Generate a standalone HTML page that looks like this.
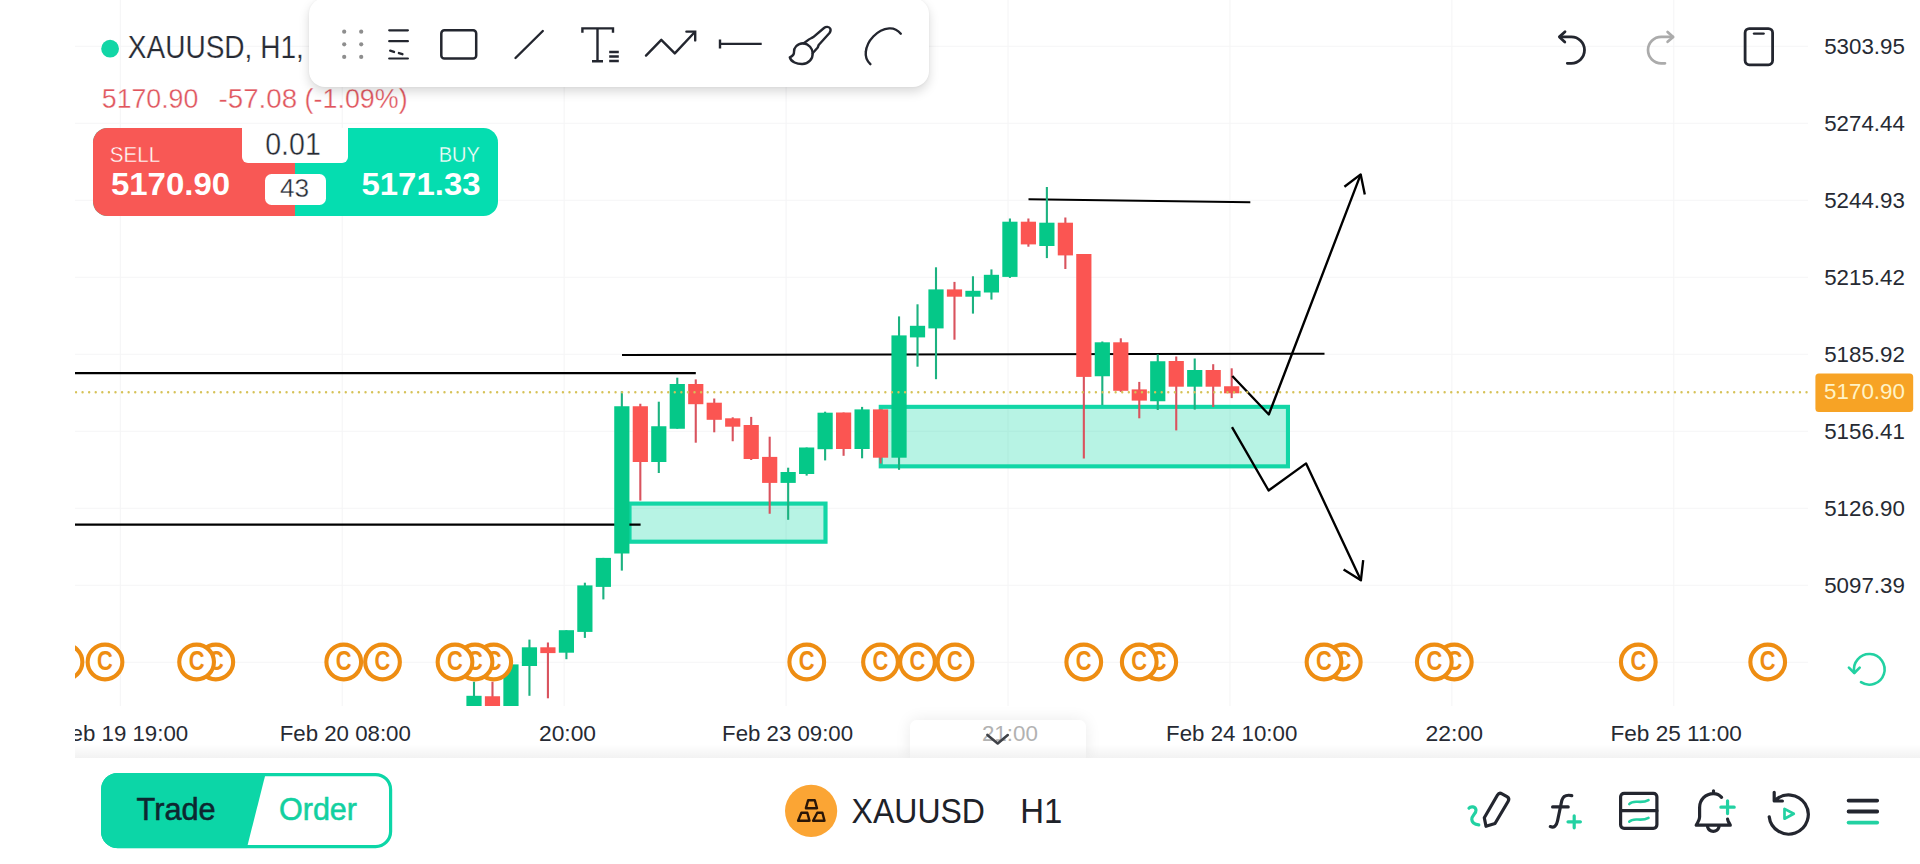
<!DOCTYPE html>
<html lang="en">
<head>
<meta charset="utf-8">
<title>XAUUSD H1</title>
<style>
html,body{margin:0;padding:0;background:#fff;}
body{width:1920px;height:864px;position:relative;overflow:hidden;font-family:"Liberation Sans",sans-serif;color:#1e2229;}
.abs{position:absolute;}
.t{position:absolute;white-space:nowrap;line-height:1;transform-origin:0 50%;}
#chart{position:absolute;left:0;top:0;width:1920px;height:864px;}
#chartclip{position:absolute;left:75px;top:0;width:1845px;height:706px;overflow:hidden;}
#chartclip svg{position:absolute;left:-75px;top:0;}
</style>
</head>
<body>
<div id="chartclip">
<svg width="1920" height="864" viewBox="0 0 1920 864">
<line x1="75" x2="1808" y1="46.20" y2="46.20" stroke="#f5f5f6" stroke-width="1.1"/>
<line x1="75" x2="1808" y1="123.20" y2="123.20" stroke="#f5f5f6" stroke-width="1.1"/>
<line x1="75" x2="1808" y1="200.20" y2="200.20" stroke="#f5f5f6" stroke-width="1.1"/>
<line x1="75" x2="1808" y1="277.20" y2="277.20" stroke="#f5f5f6" stroke-width="1.1"/>
<line x1="75" x2="1808" y1="354.20" y2="354.20" stroke="#f5f5f6" stroke-width="1.1"/>
<line x1="75" x2="1808" y1="431.20" y2="431.20" stroke="#f5f5f6" stroke-width="1.1"/>
<line x1="75" x2="1808" y1="508.20" y2="508.20" stroke="#f5f5f6" stroke-width="1.1"/>
<line x1="75" x2="1808" y1="585.20" y2="585.20" stroke="#f5f5f6" stroke-width="1.1"/>
<line x1="75" x2="1808" y1="662.20" y2="662.20" stroke="#f5f5f6" stroke-width="1.1"/>
<line y1="0" y2="706" x1="120.30" x2="120.30" stroke="#f5f5f6" stroke-width="1.1"/>
<line y1="0" y2="706" x1="342.23" x2="342.23" stroke="#f5f5f6" stroke-width="1.1"/>
<line y1="0" y2="706" x1="564.16" x2="564.16" stroke="#f5f5f6" stroke-width="1.1"/>
<line y1="0" y2="706" x1="786.09" x2="786.09" stroke="#f5f5f6" stroke-width="1.1"/>
<line y1="0" y2="706" x1="1008.02" x2="1008.02" stroke="#f5f5f6" stroke-width="1.1"/>
<line y1="0" y2="706" x1="1229.95" x2="1229.95" stroke="#f5f5f6" stroke-width="1.1"/>
<line y1="0" y2="706" x1="1451.88" x2="1451.88" stroke="#f5f5f6" stroke-width="1.1"/>
<line y1="0" y2="706" x1="1673.81" x2="1673.81" stroke="#f5f5f6" stroke-width="1.1"/>
<rect x="629.5" y="503.6" width="196" height="38.1" fill="#12d6a6" fill-opacity="0.3" stroke="#12d6a6" stroke-width="4.15"/>
<rect x="880.75" y="406.85" width="407.2" height="59.5" fill="#12d6a6" fill-opacity="0.3" stroke="#12d6a6" stroke-width="4.1"/>
<g stroke="#000" stroke-width="2.1" fill="none" stroke-linecap="butt">
<line x1="75" y1="373.1" x2="695.8" y2="373.1"/>
<line x1="75" y1="524.6" x2="640.6" y2="524.6"/>
<line x1="622" y1="355" x2="1324.5" y2="353.7"/>
<line x1="1028.5" y1="199.2" x2="1250.3" y2="202.3"/>
</g>
<rect x="472.95" y="681.70" width="2.1" height="24.30" fill="#1cb280"/>
<rect x="466.40" y="695.80" width="15.2" height="10.20" fill="#05c888"/>
<rect x="491.43" y="681.70" width="2.1" height="24.30" fill="#d9535e"/>
<rect x="484.88" y="696.25" width="15.2" height="9.75" fill="#fb5552"/>
<rect x="509.91" y="664.40" width="2.1" height="41.60" fill="#1cb280"/>
<rect x="503.36" y="664.40" width="15.2" height="41.60" fill="#05c888"/>
<rect x="528.39" y="639.60" width="2.1" height="56.20" fill="#1cb280"/>
<rect x="521.84" y="647.30" width="15.2" height="18.70" fill="#05c888"/>
<rect x="546.87" y="642.50" width="2.1" height="55.80" fill="#d9535e"/>
<rect x="540.32" y="647.30" width="15.2" height="5.80" fill="#fb5552"/>
<rect x="565.35" y="630.20" width="2.1" height="29.00" fill="#1cb280"/>
<rect x="558.80" y="630.20" width="15.2" height="22.50" fill="#05c888"/>
<rect x="583.83" y="582.70" width="2.1" height="55.20" fill="#1cb280"/>
<rect x="577.28" y="585.40" width="15.2" height="46.50" fill="#05c888"/>
<rect x="602.31" y="557.90" width="2.1" height="41.50" fill="#1cb280"/>
<rect x="595.76" y="557.90" width="15.2" height="29.00" fill="#05c888"/>
<rect x="620.79" y="391.25" width="2.1" height="179.35" fill="#1cb280"/>
<rect x="614.24" y="406.25" width="15.2" height="147.25" fill="#05c888"/>
<rect x="639.27" y="403.75" width="2.1" height="96.85" fill="#d9535e"/>
<rect x="632.72" y="406.25" width="15.2" height="55.75" fill="#fb5552"/>
<rect x="657.75" y="401.70" width="2.1" height="71.30" fill="#1cb280"/>
<rect x="651.20" y="426.25" width="15.2" height="35.75" fill="#05c888"/>
<rect x="676.23" y="377.70" width="2.1" height="51.05" fill="#1cb280"/>
<rect x="669.68" y="384.00" width="15.2" height="44.75" fill="#05c888"/>
<rect x="694.71" y="379.40" width="2.1" height="63.30" fill="#d9535e"/>
<rect x="688.16" y="384.00" width="15.2" height="20.20" fill="#fb5552"/>
<rect x="713.19" y="398.50" width="2.1" height="33.80" fill="#d9535e"/>
<rect x="706.64" y="402.70" width="15.2" height="17.10" fill="#fb5552"/>
<rect x="731.67" y="417.30" width="2.1" height="23.95" fill="#d9535e"/>
<rect x="725.12" y="418.30" width="15.2" height="8.40" fill="#fb5552"/>
<rect x="750.15" y="416.90" width="2.1" height="43.10" fill="#d9535e"/>
<rect x="743.60" y="425.00" width="15.2" height="34.00" fill="#fb5552"/>
<rect x="768.63" y="436.70" width="2.1" height="77.05" fill="#d9535e"/>
<rect x="762.08" y="456.90" width="15.2" height="26.00" fill="#fb5552"/>
<rect x="787.11" y="467.70" width="2.1" height="52.10" fill="#1cb280"/>
<rect x="780.56" y="472.00" width="15.2" height="10.90" fill="#05c888"/>
<rect x="805.59" y="447.50" width="2.1" height="28.10" fill="#1cb280"/>
<rect x="799.04" y="447.50" width="15.2" height="26.50" fill="#05c888"/>
<rect x="824.07" y="411.70" width="2.1" height="48.70" fill="#1cb280"/>
<rect x="817.52" y="412.70" width="15.2" height="36.50" fill="#05c888"/>
<rect x="842.55" y="412.50" width="2.1" height="43.30" fill="#d9535e"/>
<rect x="836.00" y="412.50" width="15.2" height="36.50" fill="#fb5552"/>
<rect x="861.03" y="406.90" width="2.1" height="51.40" fill="#1cb280"/>
<rect x="854.48" y="409.40" width="15.2" height="39.60" fill="#05c888"/>
<rect x="879.51" y="409.40" width="2.1" height="54.10" fill="#d9535e"/>
<rect x="872.96" y="409.40" width="15.2" height="48.30" fill="#fb5552"/>
<rect x="897.99" y="316.40" width="2.1" height="153.40" fill="#1cb280"/>
<rect x="891.44" y="335.40" width="15.2" height="122.30" fill="#05c888"/>
<rect x="916.47" y="304.30" width="2.1" height="62.40" fill="#1cb280"/>
<rect x="909.92" y="325.80" width="15.2" height="11.60" fill="#05c888"/>
<rect x="934.95" y="267.30" width="2.1" height="111.90" fill="#1cb280"/>
<rect x="928.40" y="289.40" width="15.2" height="39.00" fill="#05c888"/>
<rect x="953.43" y="281.90" width="2.1" height="57.80" fill="#d9535e"/>
<rect x="946.88" y="289.40" width="15.2" height="7.30" fill="#fb5552"/>
<rect x="971.91" y="276.25" width="2.1" height="37.35" fill="#1cb280"/>
<rect x="965.36" y="290.80" width="15.2" height="5.90" fill="#05c888"/>
<rect x="990.39" y="269.40" width="2.1" height="30.20" fill="#1cb280"/>
<rect x="983.84" y="274.80" width="15.2" height="17.70" fill="#05c888"/>
<rect x="1008.87" y="218.50" width="2.1" height="59.40" fill="#1cb280"/>
<rect x="1002.32" y="221.70" width="15.2" height="55.20" fill="#05c888"/>
<rect x="1027.35" y="218.50" width="2.1" height="28.20" fill="#d9535e"/>
<rect x="1020.80" y="221.70" width="15.2" height="22.70" fill="#fb5552"/>
<rect x="1045.83" y="187.00" width="2.1" height="71.10" fill="#1cb280"/>
<rect x="1039.28" y="222.70" width="15.2" height="23.30" fill="#05c888"/>
<rect x="1064.31" y="217.50" width="2.1" height="51.50" fill="#d9535e"/>
<rect x="1057.76" y="222.70" width="15.2" height="32.70" fill="#fb5552"/>
<rect x="1082.79" y="254.00" width="2.1" height="204.50" fill="#d9535e"/>
<rect x="1076.24" y="254.00" width="15.2" height="122.90" fill="#fb5552"/>
<rect x="1101.27" y="341.50" width="2.1" height="63.50" fill="#1cb280"/>
<rect x="1094.72" y="342.30" width="15.2" height="33.95" fill="#05c888"/>
<rect x="1119.75" y="338.30" width="2.1" height="53.60" fill="#d9535e"/>
<rect x="1113.20" y="342.30" width="15.2" height="48.50" fill="#fb5552"/>
<rect x="1138.23" y="381.90" width="2.1" height="36.40" fill="#d9535e"/>
<rect x="1131.68" y="389.40" width="15.2" height="11.20" fill="#fb5552"/>
<rect x="1156.71" y="354.40" width="2.1" height="55.60" fill="#1cb280"/>
<rect x="1150.16" y="361.25" width="15.2" height="40.00" fill="#05c888"/>
<rect x="1175.19" y="356.50" width="2.1" height="73.90" fill="#d9535e"/>
<rect x="1168.64" y="361.00" width="15.2" height="25.70" fill="#fb5552"/>
<rect x="1193.67" y="358.50" width="2.1" height="51.10" fill="#1cb280"/>
<rect x="1187.12" y="370.00" width="15.2" height="16.70" fill="#05c888"/>
<rect x="1212.15" y="364.20" width="2.1" height="42.80" fill="#d9535e"/>
<rect x="1205.60" y="370.00" width="15.2" height="16.70" fill="#fb5552"/>
<rect x="1230.63" y="368.30" width="2.1" height="29.80" fill="#d9535e"/>
<rect x="1224.08" y="386.25" width="15.2" height="7.05" fill="#fb5552"/>
<g stroke="#000" stroke-width="2.35" fill="none" stroke-linejoin="round" stroke-linecap="butt">
<polyline points="1232.3,376 1268.8,414.5 1360.7,174.4"/>
<polyline points="1344.4,186.8 1360.7,174.4 1364.8,194.6"/>
<polyline points="1232,427.1 1268.6,490.5 1306.1,463.4 1360.9,580.3"/>
<polyline points="1343.6,569.4 1360.9,580.3 1363.2,560.1"/>
</g>
<line x1="76" x2="1807" y1="392.2" y2="392.2" stroke="#d6c258" stroke-width="2.4" stroke-linecap="round" stroke-dasharray="0.01 6.57" />
<g transform="translate(1767.70,662)"><circle r="17.35" fill="#fff" stroke="#ee8d12" stroke-width="4.1"/><text x="0" y="7.5" text-anchor="middle" font-family="Liberation Sans, sans-serif" font-weight="bold" font-size="27" textLength="15.8" lengthAdjust="spacingAndGlyphs" fill="#ee8d12">C</text></g>
<g transform="translate(1638.30,662)"><circle r="17.35" fill="#fff" stroke="#ee8d12" stroke-width="4.1"/><text x="0" y="7.5" text-anchor="middle" font-family="Liberation Sans, sans-serif" font-weight="bold" font-size="27" textLength="15.8" lengthAdjust="spacingAndGlyphs" fill="#ee8d12">C</text></g>
<g transform="translate(1454.30,662)"><circle r="17.35" fill="#fff" stroke="#ee8d12" stroke-width="4.1"/><text x="0" y="7.5" text-anchor="middle" font-family="Liberation Sans, sans-serif" font-weight="bold" font-size="27" textLength="15.8" lengthAdjust="spacingAndGlyphs" fill="#ee8d12">C</text></g>
<g transform="translate(1434.30,662)"><circle r="17.35" fill="#fff" stroke="#ee8d12" stroke-width="4.1"/><text x="0" y="7.5" text-anchor="middle" font-family="Liberation Sans, sans-serif" font-weight="bold" font-size="27" textLength="15.8" lengthAdjust="spacingAndGlyphs" fill="#ee8d12">C</text></g>
<g transform="translate(1343.30,662)"><circle r="17.35" fill="#fff" stroke="#ee8d12" stroke-width="4.1"/><text x="0" y="7.5" text-anchor="middle" font-family="Liberation Sans, sans-serif" font-weight="bold" font-size="27" textLength="15.8" lengthAdjust="spacingAndGlyphs" fill="#ee8d12">C</text></g>
<g transform="translate(1324.00,662)"><circle r="17.35" fill="#fff" stroke="#ee8d12" stroke-width="4.1"/><text x="0" y="7.5" text-anchor="middle" font-family="Liberation Sans, sans-serif" font-weight="bold" font-size="27" textLength="15.8" lengthAdjust="spacingAndGlyphs" fill="#ee8d12">C</text></g>
<g transform="translate(1158.75,662)"><circle r="17.35" fill="#fff" stroke="#ee8d12" stroke-width="4.1"/><text x="0" y="7.5" text-anchor="middle" font-family="Liberation Sans, sans-serif" font-weight="bold" font-size="27" textLength="15.8" lengthAdjust="spacingAndGlyphs" fill="#ee8d12">C</text></g>
<g transform="translate(1139.25,662)"><circle r="17.35" fill="#fff" stroke="#ee8d12" stroke-width="4.1"/><text x="0" y="7.5" text-anchor="middle" font-family="Liberation Sans, sans-serif" font-weight="bold" font-size="27" textLength="15.8" lengthAdjust="spacingAndGlyphs" fill="#ee8d12">C</text></g>
<g transform="translate(1083.75,662)"><circle r="17.35" fill="#fff" stroke="#ee8d12" stroke-width="4.1"/><text x="0" y="7.5" text-anchor="middle" font-family="Liberation Sans, sans-serif" font-weight="bold" font-size="27" textLength="15.8" lengthAdjust="spacingAndGlyphs" fill="#ee8d12">C</text></g>
<g transform="translate(955.00,662)"><circle r="17.35" fill="#fff" stroke="#ee8d12" stroke-width="4.1"/><text x="0" y="7.5" text-anchor="middle" font-family="Liberation Sans, sans-serif" font-weight="bold" font-size="27" textLength="15.8" lengthAdjust="spacingAndGlyphs" fill="#ee8d12">C</text></g>
<g transform="translate(917.50,662)"><circle r="17.35" fill="#fff" stroke="#ee8d12" stroke-width="4.1"/><text x="0" y="7.5" text-anchor="middle" font-family="Liberation Sans, sans-serif" font-weight="bold" font-size="27" textLength="15.8" lengthAdjust="spacingAndGlyphs" fill="#ee8d12">C</text></g>
<g transform="translate(880.50,662)"><circle r="17.35" fill="#fff" stroke="#ee8d12" stroke-width="4.1"/><text x="0" y="7.5" text-anchor="middle" font-family="Liberation Sans, sans-serif" font-weight="bold" font-size="27" textLength="15.8" lengthAdjust="spacingAndGlyphs" fill="#ee8d12">C</text></g>
<g transform="translate(806.75,662)"><circle r="17.35" fill="#fff" stroke="#ee8d12" stroke-width="4.1"/><text x="0" y="7.5" text-anchor="middle" font-family="Liberation Sans, sans-serif" font-weight="bold" font-size="27" textLength="15.8" lengthAdjust="spacingAndGlyphs" fill="#ee8d12">C</text></g>
<g transform="translate(493.75,662)"><circle r="17.35" fill="#fff" stroke="#ee8d12" stroke-width="4.1"/><text x="0" y="7.5" text-anchor="middle" font-family="Liberation Sans, sans-serif" font-weight="bold" font-size="27" textLength="15.8" lengthAdjust="spacingAndGlyphs" fill="#ee8d12">C</text></g>
<g transform="translate(475.00,662)"><circle r="17.35" fill="#fff" stroke="#ee8d12" stroke-width="4.1"/><text x="0" y="7.5" text-anchor="middle" font-family="Liberation Sans, sans-serif" font-weight="bold" font-size="27" textLength="15.8" lengthAdjust="spacingAndGlyphs" fill="#ee8d12">C</text></g>
<g transform="translate(455.00,662)"><circle r="17.35" fill="#fff" stroke="#ee8d12" stroke-width="4.1"/><text x="0" y="7.5" text-anchor="middle" font-family="Liberation Sans, sans-serif" font-weight="bold" font-size="27" textLength="15.8" lengthAdjust="spacingAndGlyphs" fill="#ee8d12">C</text></g>
<g transform="translate(382.50,662)"><circle r="17.35" fill="#fff" stroke="#ee8d12" stroke-width="4.1"/><text x="0" y="7.5" text-anchor="middle" font-family="Liberation Sans, sans-serif" font-weight="bold" font-size="27" textLength="15.8" lengthAdjust="spacingAndGlyphs" fill="#ee8d12">C</text></g>
<g transform="translate(343.75,662)"><circle r="17.35" fill="#fff" stroke="#ee8d12" stroke-width="4.1"/><text x="0" y="7.5" text-anchor="middle" font-family="Liberation Sans, sans-serif" font-weight="bold" font-size="27" textLength="15.8" lengthAdjust="spacingAndGlyphs" fill="#ee8d12">C</text></g>
<g transform="translate(215.80,662)"><circle r="17.35" fill="#fff" stroke="#ee8d12" stroke-width="4.1"/><text x="0" y="7.5" text-anchor="middle" font-family="Liberation Sans, sans-serif" font-weight="bold" font-size="27" textLength="15.8" lengthAdjust="spacingAndGlyphs" fill="#ee8d12">C</text></g>
<g transform="translate(196.60,662)"><circle r="17.35" fill="#fff" stroke="#ee8d12" stroke-width="4.1"/><text x="0" y="7.5" text-anchor="middle" font-family="Liberation Sans, sans-serif" font-weight="bold" font-size="27" textLength="15.8" lengthAdjust="spacingAndGlyphs" fill="#ee8d12">C</text></g>
<g transform="translate(105.00,662)"><circle r="17.35" fill="#fff" stroke="#ee8d12" stroke-width="4.1"/><text x="0" y="7.5" text-anchor="middle" font-family="Liberation Sans, sans-serif" font-weight="bold" font-size="27" textLength="15.8" lengthAdjust="spacingAndGlyphs" fill="#ee8d12">C</text></g>
<g transform="translate(65.00,662)"><circle r="17.35" fill="#fff" stroke="#ee8d12" stroke-width="4.1"/><text x="0" y="7.5" text-anchor="middle" font-family="Liberation Sans, sans-serif" font-weight="bold" font-size="27" textLength="15.8" lengthAdjust="spacingAndGlyphs" fill="#ee8d12">C</text></g>
</svg>
</div>
<!-- header: symbol + change -->
<svg class="abs" style="left:0;top:0" width="1920" height="864" viewBox="0 0 1920 864" font-family="Liberation Sans, sans-serif">
<circle cx="110.1" cy="48.7" r="8.9" fill="#12d6a6"/>
<text x="127.8" y="58" font-size="31.2" fill="#272b34" stroke="#fff" stroke-width="0.2" textLength="176" lengthAdjust="spacingAndGlyphs">XAUUSD, H1,</text>
<g fill="#e0555d" font-size="28" stroke="#fff" stroke-width="0.35">
<text x="101.8" y="107.9" textLength="96.5" lengthAdjust="spacingAndGlyphs">5170.90</text>
<text x="218.6" y="107.9" textLength="78.5" lengthAdjust="spacingAndGlyphs">-57.08</text>
<text x="304.6" y="107.9" textLength="103" lengthAdjust="spacingAndGlyphs">(-1.09%)</text>
</g>
</svg>

<!-- sell / buy widget -->
<div class="abs" style="left:92.9px;top:127.9px;width:405.2px;height:88.2px;border-radius:14.5px;overflow:hidden;background:#05ddb0;">
  <div class="abs" style="left:0;top:0;width:202.2px;height:100%;background:#f85855;"></div>
  <div class="abs" style="left:149.3px;top:0;width:105.6px;height:34.9px;background:#fff;border-radius:0 0 6px 6px;"></div>
  <div class="abs" style="left:171.8px;top:46.4px;width:61.3px;height:30.9px;background:#fff;border-radius:6.5px;"></div>
</div>
<svg class="abs" style="left:0;top:0" width="1920" height="864" viewBox="0 0 1920 864" font-family="Liberation Sans, sans-serif">
<text x="109.8" y="161.6" font-size="21.7" fill="#fff" stroke="#f85855" stroke-width="0.4" textLength="50.3" lengthAdjust="spacingAndGlyphs">SELL</text>
<text x="110.9" y="194.9" font-size="32" font-weight="bold" fill="#fff" textLength="119.3" lengthAdjust="spacingAndGlyphs">5170.90</text>
<text x="438.7" y="161.5" font-size="21.7" fill="#fff" stroke="#05ddb0" stroke-width="0.4" textLength="41.2" lengthAdjust="spacingAndGlyphs">BUY</text>
<text x="361.5" y="194.9" font-size="32" font-weight="bold" fill="#fff" textLength="119" lengthAdjust="spacingAndGlyphs">5171.33</text>
<text x="265.2" y="155" font-size="30.7" fill="#262a33" stroke="#fff" stroke-width="0.4" textLength="55.6" lengthAdjust="spacingAndGlyphs">0.01</text>
<text x="279.9" y="197.2" font-size="25" fill="#262a33" stroke="#fff" stroke-width="0.35" textLength="29.2" lengthAdjust="spacingAndGlyphs">43</text>
</svg>
<!-- drawing toolbar -->
<div class="abs" style="left:308.5px;top:-2px;width:620.5px;height:89.4px;border-radius:16px;background:#fff;box-shadow:0 5px 11px rgba(0,0,0,0.15),0 0 3px rgba(0,0,0,0.05);"></div>
<svg class="abs" style="left:0;top:0" width="1920" height="120" viewBox="0 0 1920 120">
<g fill="#8e8e8e">
<circle cx="344.2" cy="31.7" r="2.1"/><circle cx="361.2" cy="31.7" r="2.1"/>
<circle cx="344.2" cy="44.3" r="2.1"/><circle cx="361.2" cy="44.3" r="2.1"/>
<circle cx="344.2" cy="56.9" r="2.1"/><circle cx="361.2" cy="56.9" r="2.1"/>
</g>
<g fill="none" stroke="#23262f" stroke-width="2.4" stroke-linecap="round" stroke-linejoin="round">
<!-- line style -->
<path d="M389.2 30.3H407.9M389.2 41.2H407.9M389.2 58.5H407.9" stroke-linecap="round" stroke-width="2.2"/>
<path d="M390.2 50.7L394 51.9M398.9 53.1L402.4 54.2" stroke-width="2.4" stroke-linecap="round"/>
<!-- rectangle -->
<rect x="441.3" y="30.3" width="34.9" height="28.2" rx="3.1" stroke-width="2.5"/>
<!-- line -->
<path d="M515.5 58L542.8 31"/>
<!-- text tool -->
<path d="M582.4 32.7V28.4H613V32.7M597.5 28.4V61.3M592 61.3H603" stroke-linecap="butt" stroke-linejoin="miter"/>
<path d="M609.2 51.9H618.8M609.2 56.5H618.8M609.2 61.1H618.8" stroke-width="2.5" stroke-linecap="butt"/>
<!-- trend -->
<path d="M646 55.6L661.3 39.8L674.8 53.4L694.6 32.2"/>
<path d="M686.4 31.6H695.2V40.4" stroke-linejoin="miter"/>
<!-- horizontal ray -->
<path d="M720 43.9H761.7M720 39.6V48.5" stroke-linecap="butt"/>
<!-- brush -->
<path d="M803.3 43.3C797 43.5 793.6 48 794 52C794.2 54.5 793 56 789.8 57.4C791 62 797 64.2 802.5 64C808.5 63.8 813 59 812.7 53C812.5 48.5 809 44 803.3 43.3Z"/>
<path d="M803.8 43.2L809 39.4C810.5 38.3 811.5 38.3 813.3 37.1L824 28C826 26.3 829 26.5 830.2 28.5C831 30 830.5 31.5 829.5 33L818.9 44.8C818 46 818.3 46.8 817.3 48L812.6 53.3"/>
<!-- arc -->
<path d="M870.4 64.2C866.5 60.5 865.3 56 865.8 52C866.8 41 877 29.5 889.2 28.4C894 28 898 30.5 900.8 33.7"/>
</g>
</svg>

<!-- undo / redo / fullscreen -->
<svg class="abs" style="left:1530px;top:0" width="280" height="100" viewBox="1530 0 280 100">
<g fill="none" stroke="#23262f" stroke-width="2.8" stroke-linecap="round" stroke-linejoin="round">
<path d="M1565 31.7L1559.4 36.9L1564.8 42.1"/>
<path d="M1560 36.9H1571.3A13.2 13.2 0 0 1 1571.3 63.3H1567.3"/>
<rect x="1745.1" y="28.6" width="27.5" height="36.2" rx="4.2"/>
<path d="M1754 33.6H1763.6" stroke-width="2.4"/>
</g>
<g fill="none" stroke="#ababab" stroke-width="2.7" stroke-linecap="round" stroke-linejoin="round">
<path d="M1667.6 32L1673.2 36.9L1667.6 41.8"/>
<path d="M1672.6 36.9H1661.2A13.2 13.2 0 0 0 1661.2 63.3H1665"/>
</g>
</svg>
<!-- price axis + time axis labels -->
<svg class="abs" style="left:0;top:0" width="1920" height="864" viewBox="0 0 1920 864" font-family="Liberation Sans, sans-serif">
<g font-size="22.7" fill="#262a33">
<text x="1824.2" y="53.7" textLength="80.6" lengthAdjust="spacingAndGlyphs">5303.95</text>
<text x="1824.2" y="130.7" textLength="80.6" lengthAdjust="spacingAndGlyphs">5274.44</text>
<text x="1824.2" y="207.8" textLength="80.6" lengthAdjust="spacingAndGlyphs">5244.93</text>
<text x="1824.2" y="284.8" textLength="80.6" lengthAdjust="spacingAndGlyphs">5215.42</text>
<text x="1824.2" y="361.8" textLength="80.6" lengthAdjust="spacingAndGlyphs">5185.92</text>
<text x="1824.2" y="438.8" textLength="80.6" lengthAdjust="spacingAndGlyphs">5156.41</text>
<text x="1824.2" y="515.9" textLength="80.6" lengthAdjust="spacingAndGlyphs">5126.90</text>
<text x="1824.2" y="592.9" textLength="80.6" lengthAdjust="spacingAndGlyphs">5097.39</text>
</g>
<rect x="1815.4" y="373.4" width="97.8" height="38.6" rx="3.5" fill="#f7a325"/>
<text x="1824.1" y="399" font-size="22.6" fill="#fff3c6" textLength="80.8" lengthAdjust="spacingAndGlyphs">5170.90</text>
<!-- refresh -->
<g fill="none" stroke="#22d1a2" stroke-width="2.6" stroke-linecap="round" stroke-linejoin="round">
<path d="M1854.3 672.4A15.3 15.3 0 1 1 1861 682.2"/>
<path d="M1848.9 667.6L1854.3 673L1859.7 667.6"/>
</g>
<clipPath id="axclip"><rect x="75" y="708" width="1845" height="60"/></clipPath>
<g clip-path="url(#axclip)" font-size="22.6" fill="#262a33">
<text x="57" y="741" textLength="131.2" lengthAdjust="spacingAndGlyphs">Feb 19 19:00</text>
<text x="279.7" y="741" textLength="131.2" lengthAdjust="spacingAndGlyphs">Feb 20 08:00</text>
<text x="539" y="741" textLength="57" lengthAdjust="spacingAndGlyphs">20:00</text>
<text x="722.1" y="741" textLength="131" lengthAdjust="spacingAndGlyphs">Feb 23 09:00</text>
<text x="1166.1" y="741" textLength="131.2" lengthAdjust="spacingAndGlyphs">Feb 24 10:00</text>
<text x="1425.5" y="741" textLength="57.4" lengthAdjust="spacingAndGlyphs">22:00</text>
<text x="1610.5" y="741" textLength="131.4" lengthAdjust="spacingAndGlyphs">Feb 25 11:00</text>
</g>
</svg>

<!-- shadow band above bottom bar, collapse tab -->
<div class="abs" style="left:910.2px;top:719.6px;width:175.8px;height:38.4px;border-radius:7px 7px 0 0;background:rgba(255,255,255,0.85);box-shadow:0 0 16px rgba(0,0,0,0.085);"></div>
<div class="abs" style="left:75px;top:744px;width:1845px;height:14px;background:linear-gradient(to bottom,rgba(0,0,0,0) 0%,rgba(0,0,0,0.05) 100%);"></div>
<div class="abs" style="left:0;top:758px;width:1920px;height:106px;background:#fff;"></div>
<svg class="abs" style="left:960px;top:720px" width="100" height="40" viewBox="960 720 100 40" font-family="Liberation Sans, sans-serif">
<text x="981.9" y="741" font-size="22.6" textLength="56" lengthAdjust="spacingAndGlyphs" fill="#b2b2b2">21:00</text>
<path d="M987.4 734.9L997.7 743.4L1007.8 735.1" fill="none" stroke="#3f4248" stroke-width="2.6" stroke-linecap="round" stroke-linejoin="round"/>
</svg>

<!-- bottom bar -->
<svg class="abs" style="left:101.3px;top:773.2px" width="292" height="76" viewBox="0 0 292 76">
<defs><clipPath id="tgclip"><rect x="0" y="0" width="291.2" height="75.2" rx="16.5"/></clipPath></defs>
<rect x="1.6" y="1.6" width="288" height="72" rx="15" fill="#fff" stroke="#0cd6a7" stroke-width="3.2"/>
<polygon points="0,0 164.8,0 145.8,75.2 0,75.2" fill="#0cd6a7" clip-path="url(#tgclip)"/>
</svg>
<svg class="abs" style="left:0;top:760px" width="1920" height="104" viewBox="0 760 1920 104" font-family="Liberation Sans, sans-serif">
<text x="136.6" y="820.3" font-size="31.1" fill="#0d2730" stroke="#0d2730" stroke-width="0.55" textLength="79" lengthAdjust="spacingAndGlyphs">Trade</text>
<text x="279" y="820.3" font-size="31.1" fill="#12d0a0" stroke="#12d0a0" stroke-width="0.55" textLength="78" lengthAdjust="spacingAndGlyphs">Order</text>
<circle cx="811.1" cy="810.9" r="26.1" fill="#fba534"/>
<g fill="none" stroke="#2a1607" stroke-width="2.4" stroke-linejoin="round">
<path d="M808.2 800.2H814.8L817 808.2H805.9Z"/>
<path d="M801.4 812.7H807.3L809.5 820.7H798.1Z"/>
<path d="M817.3 812.7H822.4L824.5 820.7H813.1Z"/>
</g>
<text x="851.6" y="822.9" font-size="35.6" fill="#1e2229" textLength="133.4" lengthAdjust="spacingAndGlyphs">XAUUSD</text>
<text x="1020.2" y="822.9" font-size="35.6" fill="#1e2229" textLength="42" lengthAdjust="spacingAndGlyphs">H1</text>

<!-- draw tool -->
<g fill="none" stroke-width="3.2" stroke-linecap="round" stroke-linejoin="round">
<path d="M1469 808.2C1470.4 806.2 1475.6 806 1476 810.2C1476.3 813.6 1471.6 815.6 1471.8 819.4C1472 823 1475.4 824.6 1478.8 824.8" stroke="#22d1a2"/>
<path d="M1486 826.3L1484.3 817.8L1497.5 795Q1499.2 792.2 1502 793.8L1507 796.7Q1509.8 798.4 1508.2 801.2L1495 823.5Z" stroke="#23262f"/>
<!-- f+ -->
<path d="M1550.3 826.6C1554 828 1556.5 826 1557.5 821L1561.8 800.5C1563 796 1566.5 794.5 1571.8 795.6M1552.6 806.9H1568.2" stroke="#23262f"/>
<path d="M1568 821.8H1580.4M1574.2 815.8V827.8" stroke="#22d1a2"/>
<!-- panes -->
<rect x="1620.6" y="793.3" width="36.3" height="35" rx="3.5" stroke="#23262f"/>
<path d="M1620.6 810.7H1656.9" stroke="#23262f"/>
<path d="M1629.3 804C1634 798.8 1640.5 804.6 1648.5 800.1M1629.3 821.7C1634 816.5 1640.5 822.3 1648.5 817.8" stroke="#22d1a2" stroke-width="2.6"/>
<!-- bell -->
<path d="M1721.6 797.4C1719.5 795 1716.5 793.6 1713.5 793.6C1705.5 793.6 1699.6 800 1699.6 807.5V817C1699.6 820.5 1697.5 822.5 1696.2 825.2H1730.3C1729.3 823 1728 821.5 1727.6 819.2M1713.5 790.8V793.5M1707.6 827C1708.5 830 1710.8 831.3 1713.3 831.3C1715.8 831.3 1718 830 1719 827" stroke="#23262f"/>
<path d="M1720.9 807.2H1734.2M1727.55 800.8V813.6" stroke="#22d1a2"/>
<!-- replay -->
<path d="M1774.6 800.9A19.6 19.6 0 1 1 1769.2 816.8M1774.2 792.3V801H1782.4" stroke="#23262f"/>
<path d="M1784.5 808.9V818.7L1793.8 813.8Z" stroke="#22d1a2" stroke-width="2.7"/>
<!-- menu -->
<path d="M1848.6 800.6H1877.2M1848.6 811.5H1877.2" stroke="#23262f" stroke-width="3.8"/>
<path d="M1848.6 822.6H1877.2" stroke="#22d1a2" stroke-width="3.8"/>
</g>
</svg>

</body>
</html>
